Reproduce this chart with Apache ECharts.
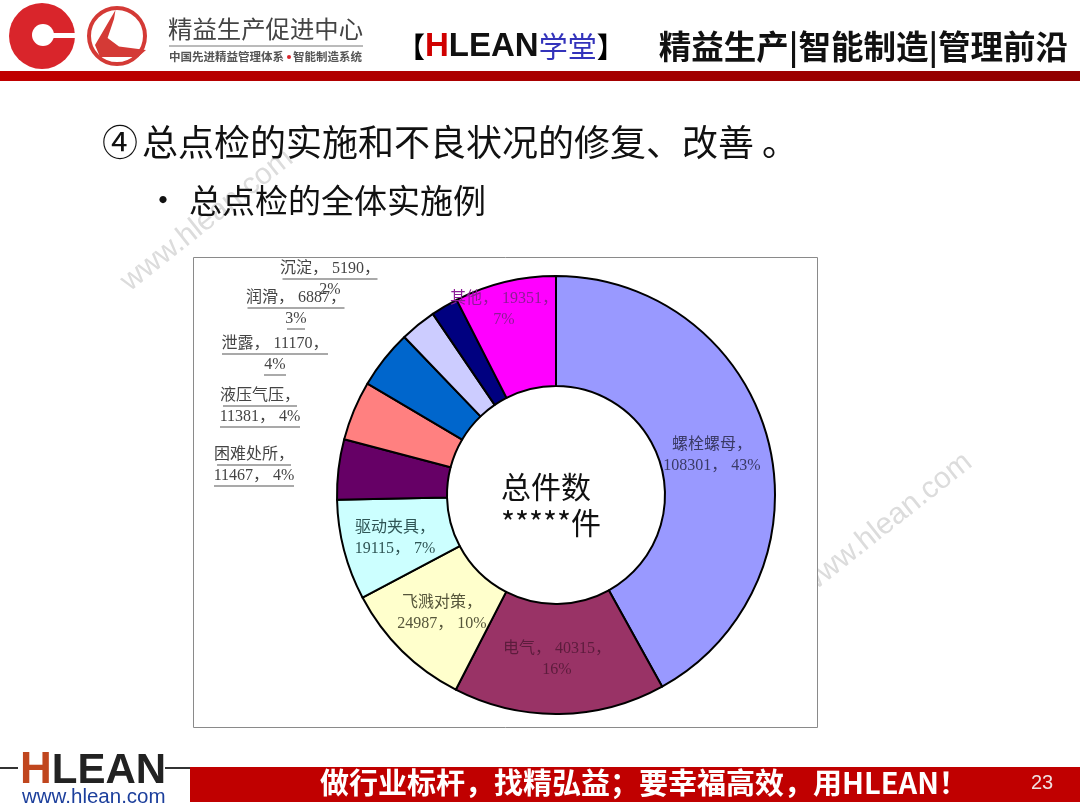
<!DOCTYPE html>
<html>
<head>
<meta charset="utf-8">
<title>总点检的全体实施例</title>
<style>
  html, body { margin: 0; padding: 0; background: #fff; }
  #chart { width: 1080px; height: 810px; }
</style>
</head>
<body>
<div id="chart"></div>
<script src="https://cdn.jsdelivr.net/npm/echarts@6/dist/echarts.min.js"></script>
<script>
// chart data
var categories = ['螺栓螺母', '电气', '飞溅对策', '驱动夹具', '困难处所', '液压气压', '泄露', '润滑', '沉淀', '其他'];
var counts = [108301, 40315, 24987, 19115, 11467, 11381, 11170, 6887, 5190, 19351];
var percents = [43, 16, 10, 7, 4, 4, 4, 3, 2, 7];

// label look, same order as categories
var sliceColors = ['#9999FF', '#993366', '#FFFFCC', '#CCFFFF', '#660066', '#FF8080', '#0066CC', '#CCCCFF', '#000080', '#FF00FF'];
var labelColors = ['#3a3a66', '#5c1c3c', '#55553a', '#2f5555', '#444', '#444', '#444', '#444', '#444', '#8c1c96'];
var breakAfterName = [true, false, true, true, true, true, false, false, false, false];
var labelSpots = [[712, 455], [557, 659], [442, 613], [395, 538], [254, 466], [260, 407], [275, 355], [296, 309], [330, 279], [504, 309]];
// underline widths per label line, 0 = no underline
var underlines = [[0, 0], [0, 0], [0, 0], [0, 0], [74, 80], [74, 80], [106, 22], [97, 18], [95, 0], [0, 0]];

var SERIF = '"Liberation Serif","Noto Sans CJK SC"';
var SANS = '"Noto Sans CJK SC"';

function lineText(i) {
    var a, b;
    if (breakAfterName[i]) {
        a = categories[i] + '，';
        b = counts[i] + '， ' + percents[i] + '%';
    } else {
        a = categories[i] + '， ' + counts[i] + '，';
        b = percents[i] + '%';
    }
    return [a, b];
}

var pieData = categories.map(function (name, i) {
    var parts = lineText(i);
    var u = underlines[i];
    var color = labelColors[i];
    var txt = { fontFamily: SERIF, fontSize: 16, color: color, lineHeight: u[0] ? 19 : 21, align: 'center' };
    var rich = { t: txt };
    var text = '{t|' + parts[0] + '}\n';
    if (u[0]) {
        rich.u0 = { width: u[0], height: 1, lineHeight: 2, backgroundColor: '#555', align: 'center' };
        text += '{u0|}\n';
    }
    text += '{t|' + parts[1] + '}';
    if (u[1]) {
        rich.u1 = { width: u[1], height: 1, lineHeight: 2, backgroundColor: '#555', align: 'center' };
        text += '\n{u1|}';
    }
    return {
        name: name,
        value: counts[i],
        itemStyle: { color: sliceColors[i] },
        label: { formatter: text, rich: rich }
    };
});

var chart = echarts.init(document.getElementById('chart'));
chart.setOption({
    animation: false,
    backgroundColor: '#fff',
    graphic: { elements: [
        // watermark
        { type: 'text', x: 207, y: 220, rotation: 0.67, z: 0, style: { text: 'www.hlean.com', font: '30px "Liberation Sans"', fill: '#dcdcdc', align: 'center', verticalAlign: 'middle' } },
        { type: 'text', x: 886, y: 524, rotation: 0.67, z: 0, style: { text: 'www.hlean.com', font: '30px "Liberation Sans"', fill: '#dcdcdc', align: 'center', verticalAlign: 'middle' } },
        // chart frame
        { type: 'rect', z: 1, shape: { x: 193.5, y: 257.5, width: 624, height: 470 }, style: { fill: '#fff', stroke: '#8a8a8a', lineWidth: 1 } },

        // logo
        { type: 'circle', z: 3, shape: { cx: 42, cy: 36, r: 33 }, style: { fill: '#d9252b' } },
        { type: 'circle', z: 4, shape: { cx: 43, cy: 35, r: 11 }, style: { fill: '#fff' } },
        { type: 'rect', z: 4, shape: { x: 50, y: 33, width: 27, height: 5 }, style: { fill: '#fff' } },
        { type: 'circle', z: 3, shape: { cx: 117, cy: 36, r: 28 }, style: { fill: '#fff', stroke: '#d43a36', lineWidth: 4 } },
        { type: 'polygon', z: 4, shape: { points: [[115.5, 10], [95, 45], [100, 57], [138, 57], [146, 50], [119, 46.5], [107.6, 38], [114, 19]] }, style: { fill: '#d43a36' } },
        { type: 'text', z: 4, x: 168, y: 29, style: { text: '精益生产促进中心', font: '24.4px ' + SANS, fill: '#444', verticalAlign: 'middle' } },
        { type: 'line', z: 4, shape: { x1: 169, y1: 46, x2: 363, y2: 46 }, style: { stroke: '#777', lineWidth: 1 } },
        { type: 'text', z: 4, x: 169, y: 57, style: { text: '中国先进精益管理体系', font: 'bold 11.5px ' + SANS, fill: '#555', verticalAlign: 'middle' } },
        { type: 'circle', z: 4, shape: { cx: 289, cy: 57, r: 2 }, style: { fill: '#d9252b' } },
        { type: 'text', z: 4, x: 293, y: 57, style: { text: '智能制造系统', font: 'bold 11.5px ' + SANS, fill: '#555', verticalAlign: 'middle' } },

        // header right side
        { type: 'text', z: 4, x: 397, y: 47, style: {
            text: '{a|【}{h|H}{l|LEAN}{x|学堂}{a|】}',
            verticalAlign: 'middle',
            rich: {
                a: { font: 'bold 28px ' + SANS, fill: '#000' },
                h: { font: 'bold 33px "Liberation Sans"', fill: '#d00000' },
                l: { font: 'bold 33px "Liberation Sans"', fill: '#111' },
                x: { font: '29px ' + SANS, fill: '#3333bb' }
            }
        } },
        { type: 'text', z: 4, x: 1068, y: 47, style: { text: '精益生产|智能制造|管理前沿', font: 'bold 32.5px ' + SANS, fill: '#111', align: 'right', verticalAlign: 'middle' } },
        { type: 'rect', z: 3, shape: { x: 0, y: 71, width: 1080, height: 10 }, style: {
            fill: new echarts.graphic.LinearGradient(0, 0, 1, 0, [{ offset: 0, color: '#c00000' }, { offset: 1, color: '#900000' }])
        } },

        // slide headings
        { type: 'text', z: 4, x: 102, y: 142, style: { text: '④', font: '36px ' + SANS, fill: '#111', verticalAlign: 'middle' } },
        { type: 'text', z: 4, x: 142, y: 142, style: { text: '总点检的实施和不良状况的修复、改善 。', font: '36px ' + SANS, fill: '#111', verticalAlign: 'middle' } },
        { type: 'text', z: 4, x: 146, y: 200, style: { text: '•', font: '34px ' + SANS, fill: '#111', verticalAlign: 'middle' } },
        { type: 'text', z: 4, x: 189, y: 200, style: { text: '总点检的全体实施例', font: '33px ' + SANS, fill: '#111', verticalAlign: 'middle' } },

        // centre of the ring
        { type: 'text', z: 5, x: 501, y: 487, style: { text: '总件数', font: '30px ' + SANS, fill: '#111', verticalAlign: 'middle' } },
        { type: 'text', z: 5, x: 501, y: 523, style: { text: '*****件', font: '30px ' + SANS, fill: '#111', verticalAlign: 'middle' } },

        // footer
        { type: 'line', z: 3, shape: { x1: 0, y1: 768, x2: 18, y2: 768 }, style: { stroke: '#333', lineWidth: 2 } },
        { type: 'line', z: 3, shape: { x1: 165, y1: 768, x2: 190, y2: 768 }, style: { stroke: '#333', lineWidth: 2 } },
        { type: 'text', z: 4, x: 20, y: 771, style: {
            text: '{h|H}{l|LEAN}',
            verticalAlign: 'middle',
            rich: {
                h: { font: 'bold 44px "Liberation Sans"', fill: '#c0461e' },
                l: { font: 'bold 42px "Liberation Sans"', fill: '#222' }
            }
        } },
        { type: 'text', z: 4, x: 22, y: 797, style: { text: 'www.hlean.com', font: '20.5px "Liberation Sans"', fill: '#1c3f9c', verticalAlign: 'middle' } },
        { type: 'rect', z: 3, shape: { x: 190, y: 767, width: 890, height: 35 }, style: { fill: '#c00000' } },
        { type: 'text', z: 4, x: 320, y: 783, style: { text: '做行业标杆，找精弘益；要幸福高效，用HLEAN！', font: 'bold 29px ' + SANS, fill: '#fff', verticalAlign: 'middle' } },
        { type: 'text', z: 4, x: 1031, y: 783, style: { text: '23', font: '20px "Liberation Sans"', fill: '#f0e0e0', verticalAlign: 'middle' } }
    ] },
    series: [
        {
            type: 'pie',
            z: 2,
            center: [556, 495],
            radius: [109, 219],
            startAngle: 90,
            clockwise: true,
            avoidLabelOverlap: false,
            silent: true,
            data: pieData,
            itemStyle: { borderColor: '#000', borderWidth: 2 },
            label: { show: true, position: 'inside' },
            labelLine: { show: false },
            labelLayout: function (params) {
                var spot = labelSpots[params.dataIndex];
                return { x: spot[0], y: spot[1], align: 'center', verticalAlign: 'middle' };
            }
        }
    ]
});
window.addEventListener('resize', function () {
    chart.resize();
});
</script>
</body>
</html>
